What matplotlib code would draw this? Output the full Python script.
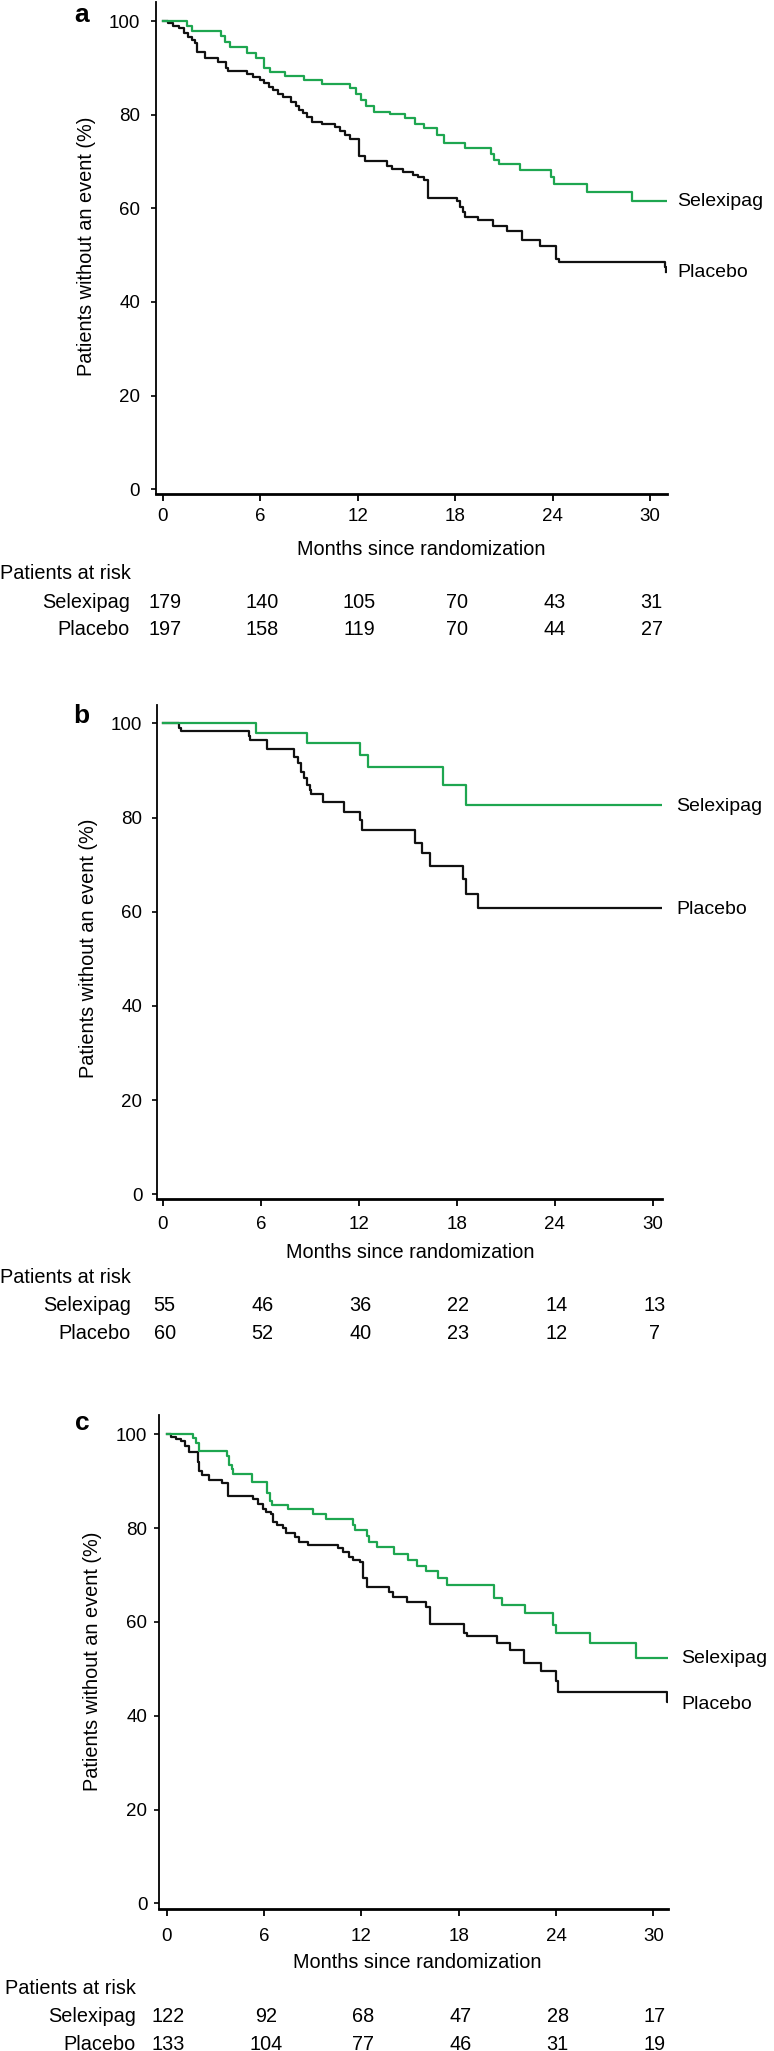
import matplotlib
matplotlib.use('Agg')
import matplotlib.pyplot as plt
from matplotlib.transforms import blended_transform_factory

plt.rcParams['font.family'] = ['Liberation Sans', 'DejaVu Sans']

W, H = 774, 2051
GREEN = '#1ea650'
BLACK = '#111111'

month_ticks = [0, 6, 12, 18, 24, 30]
pct_ticks = [0, 20, 40, 60, 80, 100]
groups = ['Selexipag', 'Placebo']

# panel a : (month, % without event) steps
a_selexipag = [(0, 100), (1.5, 99.0), (1.8, 97.9), (3.6, 96.8), (3.8, 95.5), (4.1, 94.4),
               (5.15, 93.2), (5.7, 92.2), (6.2, 89.9), (6.6, 89.2), (7.5, 88.2), (8.7, 87.4),
               (9.8, 86.5), (11.5, 85.6), (11.9, 84.5), (12.2, 83.2), (12.5, 81.8), (13.0, 80.6),
               (14.0, 80.1), (14.9, 79.2), (15.5, 78.1), (16.1, 77.1), (16.9, 75.6), (17.3, 74.0),
               (18.6, 72.9), (20.2, 71.6), (20.4, 70.4), (20.7, 69.4), (22.0, 68.1), (23.9, 66.6),
               (24.1, 65.2), (26.1, 63.4), (28.9, 61.5), (31.0, 61.5)]
a_placebo = [(0, 100), (0.3, 99.5), (0.6, 99.0), (1.0, 98.4), (1.3, 97.5), (1.55, 96.6),
             (1.8, 95.9), (1.97, 95.2), (2.07, 93.3), (2.6, 92.0), (3.4, 91.3), (3.9, 89.9),
             (4.0, 89.3), (5.2, 88.7), (5.55, 88.1), (6.0, 87.4), (6.2, 86.7), (6.5, 86.0),
             (6.8, 85.3), (7.1, 84.5), (7.4, 83.8), (7.9, 82.8), (8.2, 81.8), (8.4, 81.0),
             (8.6, 80.3), (8.9, 79.4), (9.2, 78.5), (9.8, 77.9), (10.6, 77.4), (10.9, 76.6),
             (11.2, 75.7), (11.5, 74.9), (12.1, 71.2), (12.45, 70.2), (13.8, 69.0), (14.1, 68.3),
             (14.8, 67.8), (15.4, 67.2), (15.7, 66.6), (16.1, 66.0), (16.35, 62.3), (18.1, 61.5),
             (18.3, 60.3), (18.5, 59.2), (18.6, 58.2), (19.4, 57.4), (20.3, 56.3), (21.2, 55.2),
             (22.1, 53.2), (23.2, 52.0), (24.2, 49.1), (24.4, 48.6), (30.9, 47.4), (30.97, 46.5)]
a_risk_selexipag = [179, 140, 105, 70, 43, 31]
a_risk_placebo = [197, 158, 119, 70, 44, 27]

# panel b
b_selexipag = [(0, 100), (5.7, 98.0), (8.8, 95.75), (12.05, 93.3), (12.55, 90.7),
               (17.15, 86.8), (18.6, 82.7), (30.6, 82.7)]
b_placebo = [(0, 100), (1.0, 99.1), (1.1, 98.4), (5.25, 97.4), (5.35, 96.5), (6.35, 94.5),
             (8.05, 92.9), (8.25, 91.5), (8.45, 89.7), (8.65, 88.3), (8.85, 86.9), (9.0, 85.8),
             (9.1, 85.0), (9.8, 83.2), (11.1, 81.2), (12.1, 79.5), (12.2, 77.3), (15.45, 74.65),
             (15.9, 72.4), (16.35, 69.8), (18.4, 66.9), (18.55, 63.8), (19.3, 60.8), (30.5, 60.8)]
b_risk_selexipag = [55, 46, 36, 22, 14, 13]
b_risk_placebo = [60, 52, 40, 23, 12, 7]

# panel c
c_selexipag = [(0, 100), (1.6, 99.2), (1.8, 98.1), (2.0, 96.4), (3.7, 95.3), (3.85, 93.5),
               (4.0, 92.5), (4.1, 91.5), (5.25, 89.8), (6.2, 87.5), (6.35, 85.8), (6.5, 85.0),
               (7.45, 84.0), (9.0, 82.9), (9.82, 81.9), (11.5, 80.7), (11.6, 79.6), (12.35, 78.3),
               (12.45, 77.1), (12.95, 75.9), (14.0, 74.5), (14.9, 73.3), (15.45, 71.9), (16.0, 70.9),
               (16.75, 69.3), (17.3, 67.9), (20.2, 65.1), (20.65, 63.5), (22.1, 61.8), (23.8, 59.4),
               (24.0, 57.7), (26.1, 55.4), (28.9, 52.3), (31.0, 52.3)]
c_placebo = [(0, 100), (0.25, 99.5), (0.55, 99.0), (0.9, 98.5), (1.1, 97.4), (1.35, 96.2),
             (1.9, 94.2), (2.0, 92.2), (2.2, 91.4), (2.6, 90.3), (3.4, 89.6), (3.8, 86.8),
             (5.35, 86.1), (5.65, 85.1), (5.95, 84.1), (6.15, 83.5), (6.4, 82.9), (6.55, 81.3),
             (6.8, 80.7), (7.15, 80.0), (7.35, 78.9), (7.9, 78.0), (8.15, 77.0), (8.7, 76.4),
             (10.58, 75.7), (10.88, 74.8), (11.25, 73.8), (11.5, 73.1), (11.9, 72.8), (12.08, 69.3),
             (12.33, 67.4), (13.7, 66.4), (13.95, 65.4), (14.8, 64.3), (16.0, 63.2), (16.2, 59.5),
             (18.3, 57.7), (18.5, 56.9), (20.35, 55.5), (21.15, 54.1), (22.0, 51.3), (23.05, 49.6),
             (24.0, 47.4), (24.15, 45.1), (30.85, 42.9), (30.9, 42.9)]
c_risk_selexipag = [122, 92, 68, 47, 28, 17]
c_risk_placebo = [133, 104, 77, 46, 31, 19]

fig = plt.figure(figsize=(W / 100, H / 100), dpi=100)


def fx(px):
    return px / W


def fy(py):
    return 1 - py / H


def panel(letter, sel, pla, risk_sel, risk_pla, lay):
    left, right, top, bottom = lay['box']
    m0, m30 = lay['mx']
    y100, y0 = lay['my']
    ax = fig.add_axes([fx(left), fy(bottom), (right - left) / W, (bottom - top) / H])

    ax.step([p[0] for p in pla], [p[1] for p in pla], where='post', color=BLACK, lw=1.6)
    ax.step([p[0] for p in sel], [p[1] for p in sel], where='post', color=GREEN, lw=1.6)

    ax.set_xlim((left - m0) / (m30 - m0) * 30, (right - m0) / (m30 - m0) * 30)
    ax.set_ylim(100 * (y0 - bottom) / (y0 - y100), 100 * (y0 - top) / (y0 - y100))
    ax.set_xticks(month_ticks)
    ax.set_yticks(pct_ticks)
    ax.spines['top'].set_visible(False)
    ax.spines['right'].set_visible(False)
    ax.spines['left'].set_linewidth(1.3)
    ax.spines['bottom'].set_linewidth(2.0)
    ax.tick_params(axis='y', length=3.5, width=1.2, pad=lay['ypad'], labelsize=13.5)
    ax.tick_params(axis='x', length=5, width=1.3, pad=lay['xpad'], labelsize=13.5)

    ax.text(lay['lx'], sel[-1][1] + lay['dy'][0], 'Selexipag', fontsize=14, va='center',
            ha='left', clip_on=False)
    ax.text(lay['lx'], pla[-1][1] + lay['dy'][1], 'Placebo', fontsize=14, va='center',
            ha='left', clip_on=False)

    fig.text(fx(lay['letter'][0]), fy(lay['letter'][1]), letter, fontsize=19,
             fontweight='bold', ha='center', va='baseline')
    fig.text(fx(lay['ylab'][0]), fy(lay['ylab'][1]), 'Patients without an event (%)',
             fontsize=14.3, rotation=90, ha='center', va='center')
    fig.text(fx(lay['xlab'][0]), fy(lay['xlab'][1]), 'Months since randomization',
             fontsize=14.3, ha='center', va='baseline')
    fig.text(fx(lay['par'][0]), fy(lay['par'][1]), 'Patients at risk', fontsize=14.3,
             ha='left', va='baseline')

    tr = blended_transform_factory(ax.transData, fig.transFigure)
    for name, counts, yb in zip(groups, [risk_sel, risk_pla], lay['rows']):
        fig.text(fx(lay['rowx']), fy(yb), name, fontsize=14.3, ha='right', va='baseline')
        for m, n in zip(month_ticks, counts):
            ax.text(m + 0.1, fy(yb), str(n), transform=tr, fontsize=14.3, ha='center',
                    va='baseline', clip_on=False)
    return ax


panel('a', a_selexipag, a_placebo, a_risk_selexipag, a_risk_placebo,
      dict(box=(156, 667, 1.7, 494.3), mx=(163, 650), my=(21, 489.3), ypad=8, xpad=5,
           lx=31.7, dy=(-0.1, -0.1), letter=(82, 21.7), ylab=(87, 246), xlab=(421.6, 555),
           par=(0, 579), rowx=130, rows=(608, 635)))

panel('b', b_selexipag, b_placebo, b_risk_selexipag, b_risk_placebo,
      dict(box=(157, 662, 705, 1199.3), mx=(163, 652.5), my=(723.3, 1194.3), ypad=7, xpad=7,
           lx=31.45, dy=(-0.4, -0.4), letter=(81, 723), ylab=(88, 948), xlab=(410, 1258),
           par=(0, 1283), rowx=131, rows=(1311, 1339)))

panel('c', c_selexipag, c_placebo, c_risk_selexipag, c_risk_placebo,
      dict(box=(159.3, 667.6, 1415, 1909), mx=(166.7, 653.4), my=(1434.3, 1903.3), ypad=5,
           xpad=9, lx=31.7, dy=(0.0, -0.6), letter=(82, 1430), ylab=(93, 1661),
           xlab=(417, 1968), par=(5, 1994), rowx=136, rows=(2022, 2050)))

fig.savefig('out.png', dpi=100)
